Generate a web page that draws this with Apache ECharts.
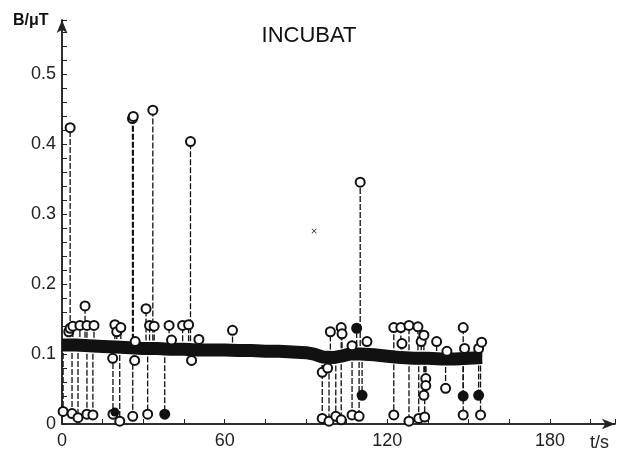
<!DOCTYPE html>
<html>
<head>
<meta charset="utf-8">
<script src="https://cdn.jsdelivr.net/npm/echarts@6/dist/echarts.min.js"></script>
<style>
  html, body { margin: 0; padding: 0; background: #fff; }
  #chart { width: 618px; height: 450px; }
</style>
</head>
<body>
<div id="chart"></div>
<script>
// the dense trace, read as its centre every few seconds
var bandT = [0, 5, 10, 15, 20, 25, 30, 35, 40, 45, 50, 55, 60, 65, 70, 75, 80, 85, 90, 93, 96, 100, 103, 106, 110, 115, 120, 125, 130, 135, 140, 145, 150, 155]
var bandB = [0.113, 0.113, 0.112, 0.111, 0.110, 0.109, 0.108, 0.108, 0.107, 0.107, 0.106, 0.106, 0.106, 0.105, 0.105, 0.104, 0.104, 0.103, 0.102, 0.100, 0.096, 0.095, 0.097, 0.100, 0.100, 0.099, 0.097, 0.095, 0.094, 0.094, 0.093, 0.093, 0.094, 0.095]

// outliers (t in s, B in uT)
var spikeHigh = [[3, 0.424], [26, 0.437], [26.3, 0.440], [33.5, 0.449], [47.4, 0.404], [110, 0.346]]
var spikeMid = [
  [2.5, 0.132], [3, 0.137], [4, 0.140], [6.6, 0.141], [8.5, 0.169], [9.2, 0.141], [11.8, 0.141],
  [18.7, 0.094], [19.5, 0.142], [20.2, 0.132], [21.7, 0.138], [26.8, 0.091], [27, 0.118],
  [31, 0.165], [32.3, 0.141], [34, 0.140], [39.5, 0.141], [40.4, 0.120], [44.5, 0.141],
  [46.7, 0.142], [47.8, 0.091], [50.5, 0.121], [62.9, 0.134],
  [96, 0.074], [98, 0.080], [99, 0.132], [103, 0.138], [103.3, 0.129], [107, 0.112],
  [108.7, 0.137], [110.7, 0.041], [112.5, 0.118], [122.4, 0.138], [125, 0.138], [125.4, 0.115],
  [128, 0.141], [131.3, 0.139], [132.5, 0.118], [133.5, 0.127], [133.5, 0.041], [134.2, 0.065],
  [134.2, 0.055], [138.2, 0.118], [141.5, 0.051], [142, 0.104], [148, 0.138], [148.5, 0.108],
  [148, 0.040], [153.7, 0.108], [153.7, 0.041], [154.8, 0.117]
]
var spikeLow = [
  [0.4, 0.018], [3.7, 0.015], [5.9, 0.009], [9.2, 0.014], [11.4, 0.013], [18.8, 0.014],
  [21.3, 0.004], [26.1, 0.011], [31.6, 0.014], [37.9, 0.014],
  [96, 0.008], [98.5, 0.004], [101, 0.011], [103, 0.006], [107, 0.013], [109.6, 0.011],
  [122.4, 0.013], [128, 0.004], [131.6, 0.008], [133.8, 0.010], [148, 0.013], [154.4, 0.013]
]
var solidDots = [[19.5, 0.017], [37.9, 0.014], [108.7, 0.137], [110.7, 0.041], [148, 0.040], [153.7, 0.041]]
var crossMark = [[93, 0.276]]

var xTicks = [0, 60, 120, 180]

function nearestBand (t) {
  var best = 0
  for (var i = 1; i < bandT.length; i++) {
    if (Math.abs(bandT[i] - t) < Math.abs(bandT[best] - t)) best = i
  }
  return bandB[best]
}

var allSpikes = spikeHigh.concat(spikeMid, spikeLow)
var stems = allSpikes.map(function (p) { return [p[0], nearestBand(p[0]), p[1]] })
var band = bandT.map(function (t, i) { return [t, bandB[i]] })

var font = 'Liberation Sans, Arial, sans-serif'
var tickStyle = { color: '#222', width: 1 }
var lineStyle = { color: '#222', width: 1.5 }
var chart = echarts.init(document.getElementById('chart'))
window.addEventListener('resize', function () { chart.resize() })

// second pair of axes only carries the arrow heads (ticks vanish when the symbol is on the same axis)
function arrowAxis (min, max) {
  return {
    type: 'value', min: min, max: max,
    axisLine: { show: true, lineStyle: lineStyle, symbol: ['none', 'arrow'], symbolSize: [8, 13] },
    axisTick: { show: false }, axisLabel: { show: false }, splitLine: { show: false }
  }
}

chart.setOption({
  animation: false,
  backgroundColor: '#fff',
  title: {
    text: 'INCUBAT', left: 'center', top: 20,
    textStyle: { fontFamily: font, fontSize: 22, fontWeight: 'normal', color: '#111' }
  },
  grid: { left: 62, right: 2, top: 20, bottom: 24 },
  xAxis: [{
    type: 'value', min: 0, max: 204, interval: 15,
    axisLine: { lineStyle: lineStyle },
    axisTick: { show: true, inside: true, length: 5, lineStyle: tickStyle },
    splitLine: { show: false },
    axisLabel: {
      margin: 8, color: '#222', fontFamily: font, fontSize: 18,
      formatter: function (v) { return xTicks.indexOf(v) >= 0 ? String(v) : '' }
    }
  }, Object.assign(arrowAxis(0, 204), { position: 'bottom' })],
  yAxis: [{
    type: 'value', min: 0, max: 0.578, interval: 0.1,
    axisLine: { show: true, lineStyle: lineStyle },
    axisTick: { show: true, inside: true, length: 5, lineStyle: tickStyle },
    minorTick: { show: true, splitNumber: 5, length: 5, lineStyle: tickStyle },
    splitLine: { show: false },
    axisLabel: {
      margin: 6, color: '#222', fontFamily: font, fontSize: 18,
      showMaxLabel: false,
      formatter: function (v) { return v === 0 ? '0' : v.toFixed(1) }
    }
  }, Object.assign(arrowAxis(0, 0.578), { position: 'left' })],
  graphic: [
    { type: 'text', left: 13, top: 13, style: { text: 'B/\u03bcT', font: 'bold 16px ' + font, fill: '#111' } },
    { type: 'text', left: 590, top: 434, style: { text: 't/s', font: '18px ' + font, fill: '#222' } }
  ],
  series: [
    {
      type: 'custom',
      data: stems,
      z: 2,
      renderItem: function (params, api) {
        var a = api.coord([api.value(0), api.value(1)])
        var b = api.coord([api.value(0), api.value(2)])
        return {
          type: 'line',
          shape: { x1: a[0], y1: a[1], x2: b[0], y2: b[1] },
          style: { stroke: '#111', lineWidth: 1.3, lineDash: [6, 2] }
        }
      }
    },
    {
      type: 'line',
      data: band,
      symbol: 'none',
      z: 3,
      lineStyle: { color: '#111', width: 13, cap: 'butt' }
    },
    {
      type: 'scatter',
      data: allSpikes,
      symbol: 'emptyCircle',
      symbolSize: 9,
      z: 4,
      itemStyle: { color: '#111', borderWidth: 1.7, opacity: 1 }
    },
    {
      type: 'scatter',
      data: solidDots,
      symbol: 'circle',
      symbolSize: 9,
      z: 5,
      itemStyle: { color: '#111', opacity: 1 }
    },
    {
      type: 'scatter',
      data: crossMark,
      symbol: 'path://M0,1L1,0L5,4L9,0L10,1L6,5L10,9L9,10L5,6L1,10L0,9L4,5Z',
      symbolSize: 5,
      z: 5,
      itemStyle: { color: '#222', opacity: 1 }
    }
  ]
})
</script>
</body>
</html>
